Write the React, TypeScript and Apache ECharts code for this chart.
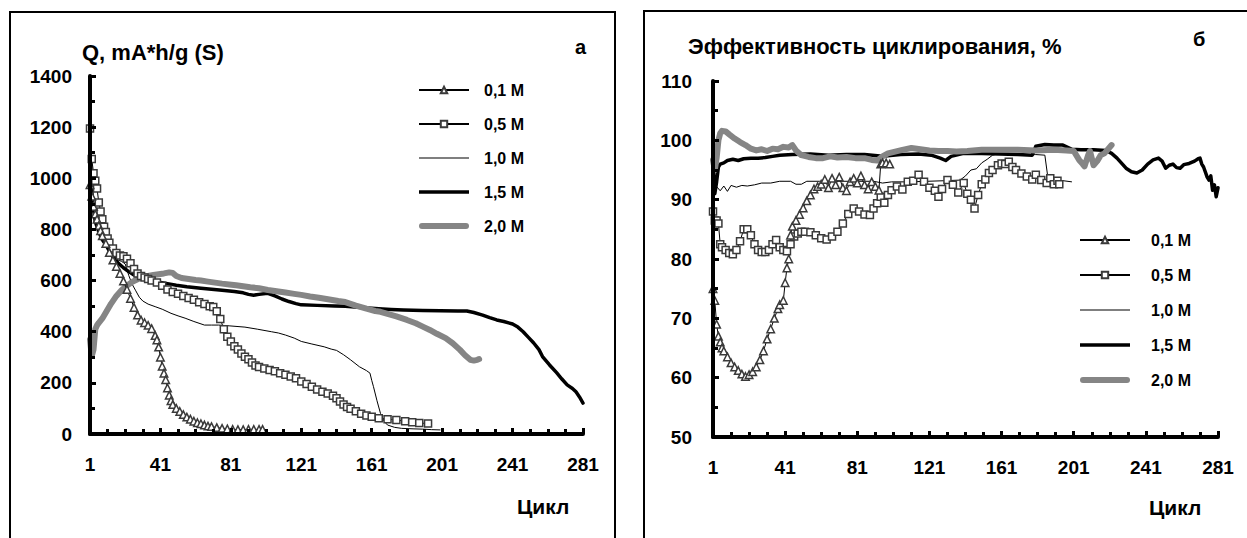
import { useEffect, useRef } from 'react';
import * as echarts from 'echarts';

const FONT = "'Liberation Sans', Arial, sans-serif";

// Legend / series names
const seriesNames = ['0,1 M', '0,5 M', '1,0 M', '1,5 M', '2,0 M'];

// Axis ranges (cycles shown from 1 to 281, labels every 40, ticks every 10)
const cycleFirst = 1;
const cycleLast = 281;
const cycleLabelStep = 40;
const capacityMin = 0;
const capacityMax = 1400;
const capacityStep = 200;
const effMin = 50;
const effMax = 110;
const effStep = 10;

// ---- Panel а: discharge capacity, mA*h/g (S) vs cycle ----
const capacity01: [number, number][] = [
  [1, 975], [2, 930], [3, 890], [4, 860], [5, 840], [6, 815], [7, 795], [8, 775], [10, 745], [12, 710],
  [14, 680], [16, 655], [18, 628], [20, 598], [22, 565], [24, 530], [26, 495], [28, 465], [30, 445],
  [32, 435], [34, 425], [36, 412], [38, 385], [39, 368], [40, 340], [41, 300], [42, 265], [43, 238],
  [44, 212], [45, 180], [46, 152], [47, 130], [48, 115], [50, 100], [52, 88], [54, 76], [56, 66],
  [58, 58], [60, 50], [62, 44], [64, 40], [66, 35], [68, 31], [70, 29], [73, 25], [76, 22], [79, 20],
  [82, 18], [85, 17], [88, 17], [91, 18], [94, 18], [97, 18], [99, 18],
];
const capacity05: [number, number][] = [
  [1, 1195], [2, 1075], [3, 1020], [4, 990], [5, 960], [6, 905], [7, 870], [8, 840], [9, 810], [10, 790],
  [11, 765], [12, 748], [14, 725], [16, 708], [18, 698], [20, 695], [22, 685], [24, 668], [26, 645],
  [28, 628], [30, 618], [32, 612], [34, 606], [36, 600], [39, 592], [42, 580], [45, 565], [48, 555],
  [51, 548], [54, 540], [57, 532], [60, 525], [63, 515], [66, 508], [69, 500], [71, 497], [73, 480],
  [75, 450], [77, 410], [79, 380], [81, 362], [83, 343], [85, 330], [87, 315], [89, 302], [91, 292],
  [93, 280], [95, 268], [97, 262], [100, 256], [103, 250], [106, 245], [109, 238], [112, 232],
  [115, 225], [118, 218], [121, 205], [124, 196], [127, 185], [130, 174], [133, 165], [136, 158],
  [139, 150], [141, 140], [143, 127], [145, 115], [147, 106], [149, 99], [152, 89], [155, 79],
  [158, 72], [161, 67], [165, 62], [170, 58], [175, 55], [180, 50], [184, 46], [188, 43], [193, 41],
];
const capacity10: [number, number][] = [
  [1, 930], [2, 890], [3, 860], [5, 820], [7, 790], [9, 760], [11, 730], [13, 705], [15, 690], [17, 680],
  [19, 675], [21, 665], [23, 620], [25, 585], [27, 560], [29, 535], [31, 520], [34, 508], [38, 498],
  [42, 488], [47, 472], [51, 462], [55, 453], [60, 440], [66, 426], [70, 426], [74, 426], [80, 423],
  [89, 418], [96, 410], [104, 400], [108, 395], [112, 387], [117, 375], [121, 362], [127, 352],
  [134, 341], [138, 332], [141, 327], [145, 310], [149, 290], [154, 263], [158, 248], [160, 238],
  [161, 210], [162, 185], [164, 130], [166, 80], [168, 50], [170, 35], [174, 26], [178, 22], [185, 20],
  [190, 19], [195, 17], [200, 16],
];
const capacity15: [number, number][] = [
  [1, 1100], [2, 950], [3, 880], [4, 830], [6, 790], [8, 760], [10, 740], [12, 715], [14, 695], [17, 668],
  [20, 650], [23, 635], [26, 622], [29, 612], [33, 603], [38, 596], [45, 588], [50, 582], [56, 576],
  [64, 570], [70, 566], [76, 562], [83, 557], [88, 552], [91, 546], [94, 543], [97, 546], [102, 550],
  [106, 540], [110, 528], [114, 518], [118, 510], [121, 505], [130, 503], [140, 501], [146, 500],
  [155, 495], [165, 490], [172, 487], [179, 485], [190, 483], [200, 482], [210, 481], [215, 481],
  [219, 475], [224, 465], [228, 455], [232, 446], [236, 440], [241, 430], [244, 418], [247, 400],
  [250, 378], [253, 356], [256, 330], [258, 303], [262, 270], [266, 240], [269, 215], [272, 192],
  [275, 178], [277, 165], [279, 145], [281, 121],
];
const capacity20: [number, number][] = [
  [1, 370], [2, 305], [3, 330], [4, 410], [5, 425], [6, 435], [8, 452], [10, 475], [13, 510], [16, 540],
  [19, 563], [22, 580], [25, 595], [28, 605], [31, 613], [34, 618], [37, 622], [40, 625], [43, 628],
  [46, 632], [48, 630], [50, 618], [53, 610], [57, 606], [61, 602], [64, 600], [68, 596], [72, 592],
  [76, 588], [80, 585], [84, 582], [88, 578], [92, 574], [97, 570], [102, 563], [107, 558], [112, 553],
  [117, 548], [121, 544], [126, 538], [131, 533], [137, 526], [142, 520], [146, 516], [152, 502],
  [158, 490], [163, 481], [166, 478], [170, 470], [175, 460], [181, 446], [186, 433], [190, 420],
  [194, 407], [198, 392], [203, 375], [207, 355], [211, 330], [214, 308], [217, 290], [219, 287],
  [221, 290], [222, 293],
];

// ---- Panel б: cycling efficiency, % vs cycle ----
const eff01: [number, number][] = [
  [1, 75], [2, 73], [3, 69], [4, 67], [5, 66], [6, 65], [7, 64.5], [9, 63.5], [11, 62.5], [13, 61.8],
  [15, 61.2], [17, 60.6], [19, 60.2], [21, 60.5], [23, 61], [25, 61.8], [27, 63], [29, 64.5], [31, 66.5],
  [33, 68.2], [35, 70], [37, 71.6], [38, 72.3], [40, 73], [41, 76], [42, 78.5], [43, 80], [44, 84],
  [45, 85.5], [47, 86.5], [49, 87.5], [51, 88.6], [53, 89.8], [55, 90.8], [57, 91.8], [59, 92.2],
  [61, 92.6], [63, 93.4], [65, 92], [67, 93.6], [69, 92.5], [71, 93.8], [73, 92], [75, 91.5], [77, 93],
  [79, 93.6], [81, 92.8], [83, 94], [85, 92.5], [87, 91.8], [89, 93], [91, 92.2], [93, 91.6], [94, 96],
  [95, 96.2], [97, 96.2], [99, 96],
];
const eff05: [number, number][] = [
  [1, 88], [2, 86.5], [3, 86.5], [4, 86], [5, 82.5], [6, 82], [8, 81.5], [10, 81], [12, 80.8], [14, 81.5],
  [16, 83], [18, 85], [20, 85], [22, 84], [24, 82.5], [26, 81.5], [28, 81.2], [30, 81.2], [32, 81.5],
  [34, 82.5], [36, 83.2], [38, 82], [40, 81.5], [42, 81.3], [44, 82.5], [46, 83.8], [48, 84.3],
  [50, 84.6], [52, 84.6], [55, 84.5], [58, 84], [61, 83.5], [64, 83.3], [67, 83.8], [70, 84.6],
  [73, 86], [76, 87.6], [79, 88.5], [82, 88], [85, 87.5], [88, 87.4], [90, 88.5], [92, 89.4],
  [94, 90.5], [96, 89.5], [98, 90.8], [100, 91.6], [103, 92.2], [106, 91.7], [109, 93], [112, 93.2],
  [115, 94.2], [118, 93], [121, 92], [124, 91.5], [126, 90.5], [128, 91.8], [131, 93.3], [134, 92.5],
  [137, 91.2], [140, 92.8], [142, 91], [144, 90], [146, 88.5], [148, 90.8], [150, 92.6], [152, 93.4],
  [154, 94.5], [156, 95], [159, 95.8], [161, 96.1], [163, 96], [165, 96.4], [167, 95.5], [169, 95],
  [172, 94.4], [175, 93.9], [178, 93.4], [180, 94.2], [183, 93.3], [186, 92.8], [188, 93.6],
  [190, 92.6], [192, 93.2], [193, 92.6],
];
const eff10: [number, number][] = [
  [1, 89], [2, 91.6], [3, 92.2], [5, 91.5], [7, 92.3], [9, 91.4], [11, 92.4], [14, 92.1], [17, 92.4],
  [20, 92.3], [24, 92.5], [28, 92.8], [33, 92.8], [38, 93.1], [44, 93.1], [47, 92.6], [50, 92.6],
  [53, 93.1], [60, 93.1], [70, 93.1], [80, 93.1], [90, 93.1], [95, 92.8], [100, 93], [110, 93],
  [120, 93.1], [130, 93.2], [138, 93.3], [141, 94], [144, 95], [147, 95.2], [150, 96.2], [153, 96.8],
  [156, 97.5], [160, 97.8], [165, 97.8], [170, 97.6], [175, 97.5], [180, 97.6], [185, 97.5], [187, 93],
  [190, 92.8], [195, 93.2], [200, 93],
];
const eff15: [number, number][] = [
  [1, 97], [2, 91], [3, 93], [4, 95.5], [5, 96], [7, 96.2], [9, 96.6], [12, 96.8], [15, 96.6], [18, 96.9],
  [22, 97], [26, 97], [30, 97.1], [34, 97.3], [38, 97.5], [45, 97.6], [55, 97.7], [65, 97.5], [75, 97.6],
  [85, 97.6], [95, 97.3], [105, 97.6], [115, 97.7], [122, 97.5], [127, 97], [130, 96.6], [133, 97.3],
  [140, 97.8], [150, 97.8], [160, 97.7], [170, 97.6], [178, 97.5], [180, 99], [185, 99.3], [190, 99.2],
  [195, 99.2], [200, 98.5], [205, 98.4], [212, 98.4], [219, 98.3], [222, 97.8], [225, 97], [228, 96],
  [230, 95.3], [233, 94.7], [236, 94.5], [239, 95], [242, 96], [245, 96.7], [248, 97], [250, 96.5],
  [252, 95.3], [254, 95.8], [256, 96], [258, 95.4], [260, 95.3], [262, 95.9], [265, 96.1], [268, 96.5],
  [270, 96.9], [271, 97], [272, 96], [273, 95.5], [275, 93.8], [276, 93.3], [277, 94], [278, 91.6],
  [279, 92.5], [280, 90.5], [281, 92],
];
const eff20: [number, number][] = [
  [1, 96.7], [2, 95], [3, 97], [4, 100], [5, 101.2], [6, 101.6], [8, 101.5], [10, 101], [13, 100.3],
  [16, 99.7], [19, 99.2], [22, 98.6], [25, 98.3], [28, 98.5], [31, 98.2], [34, 98.6], [37, 98.5],
  [40, 98.9], [43, 98.8], [45, 99.2], [47, 98.3], [50, 97.5], [54, 97.2], [58, 97], [62, 97], [66, 97.3],
  [70, 97.1], [75, 97.2], [80, 97], [85, 97], [89, 96.7], [92, 96.6], [95, 97.3], [98, 97.8],
  [102, 98.1], [106, 98.4], [111, 98.7], [116, 98.5], [121, 98.3], [126, 98.2], [131, 98.2],
  [136, 98.1], [142, 98.2], [150, 98.4], [160, 98.4], [170, 98.4], [180, 98.3], [190, 98.4],
  [197, 98.3], [201, 98.2], [204, 96.7], [206, 96], [207, 95.6], [209, 97.5], [210, 98.2], [212, 95.8],
  [214, 96.5], [216, 97.5], [218, 97.8], [220, 98.5], [222, 99.2],
];

const toAxis = (d: [number, number][]) => d.map(([c, v]) => [c - cycleFirst, v]);

const AXIS_COLOR = '#000000';

const boldLabel = (size: number) => ({
  fontSize: size,
  fontWeight: 'bold' as const,
  fontFamily: FONT,
  color: '#000',
});

function makeX(gridIndex: number) {
  return {
    type: 'value',
    gridIndex,
    min: 0,
    max: cycleLast - cycleFirst,
    interval: cycleLabelStep,
    z: 5,
    axisLine: { show: true, lineStyle: { color: AXIS_COLOR, width: 4, opacity: 1 } },
    axisTick: { show: true, inside: true, length: 6, lineStyle: { color: AXIS_COLOR, width: 3 } },
    minorTick: { show: true, splitNumber: 4, length: 5, lineStyle: { color: AXIS_COLOR, width: 3 } },
    axisLabel: { ...boldLabel(19), margin: 21, formatter: (v: number) => String(v + cycleFirst) },
    splitLine: { show: false },
  };
}

function makeY(gridIndex: number, min: number, max: number, interval: number, margin: number) {
  return {
    type: 'value',
    gridIndex,
    min,
    max,
    interval,
    z: 5,
    axisLine: { show: true, lineStyle: { color: AXIS_COLOR, width: 4, opacity: 1 } },
    axisTick: { show: true, inside: true, length: 6, lineStyle: { color: AXIS_COLOR, width: 3 } },
    minorTick: { show: true, splitNumber: 2, length: 5, lineStyle: { color: AXIS_COLOR, width: 3 } },
    axisLabel: { ...boldLabel(19), margin, formatter: (v: number) => String(v) },
    splitLine: { show: false },
  };
}

const lineColor = '#000';
const grayColor = '#858585';
const markerBorder = '#3a3a3a';

function makeSeries(idx: number, d01: any, d05: any, d10: any, d15: any, d20: any) {
  const base = { type: 'line', xAxisIndex: idx, yAxisIndex: idx, animation: false };
  return [
    {
      ...base, name: seriesNames[2], data: toAxis(d10), symbol: 'none',
      itemStyle: { color: lineColor },
      lineStyle: { color: lineColor, width: 1 },
    },
    {
      ...base, name: seriesNames[3], data: toAxis(d15), symbol: 'none',
      itemStyle: { color: lineColor },
      lineStyle: { color: lineColor, width: 3.5, cap: 'round', join: 'round' },
    },
    {
      ...base, name: seriesNames[4], data: toAxis(d20), symbol: 'none',
      itemStyle: { color: grayColor },
      lineStyle: { color: grayColor, width: 6, cap: 'round', join: 'round' },
    },
    {
      ...base, name: seriesNames[1], data: toAxis(d05), symbol: 'rect', symbolSize: 7,
      showAllSymbol: true,
      itemStyle: { color: '#fff', borderColor: markerBorder, borderWidth: 1.5 },
      lineStyle: { color: lineColor, width: 1 },
    },
    {
      ...base, name: seriesNames[0], data: toAxis(d01), symbol: 'triangle', symbolSize: 7.5,
      showAllSymbol: true,
      itemStyle: { color: '#fff', borderColor: markerBorder, borderWidth: 1.5 },
      lineStyle: { color: lineColor, width: 1 },
    },
  ];
}

const legendItems = [
  { name: seriesNames[0] },
  { name: seriesNames[1] },
  { name: seriesNames[2], icon: 'path://M0,0 L50,0 L50,1 L0,1 Z', itemStyle: { color: lineColor } },
  { name: seriesNames[3], icon: 'path://M0,0 L50,0 L50,3.5 L0,3.5 Z', itemStyle: { color: lineColor } },
  {
    name: seriesNames[4],
    icon: 'path://M3,0 L47,0 A3,3 0 0 1 47,6 L3,6 A3,3 0 0 1 3,0 Z',
    itemStyle: { color: grayColor },
  },
];

function legendAt(left: number, top: number, gap: number, textPad: number) {
  return {
    data: legendItems,
    orient: 'vertical',
    left,
    top,
    padding: 0,
    itemWidth: 50,
    itemHeight: 8,
    itemGap: gap,
    selectedMode: false,
    textStyle: { ...boldLabel(16), padding: [0, 0, 0, textPad] },
  };
}

function txt(text: string, x: number, y: number, size: number) {
  return {
    type: 'text',
    x,
    y,
    silent: true,
    style: {
      text,
      font: `bold ${size}px ${FONT}`,
      fill: '#000',
      textAlign: 'left',
      textVerticalAlign: 'middle',
    },
  };
}

export default function App() {
  const ref = useRef<HTMLDivElement>(null);
  useEffect(() => {
    if (!ref.current) return;
    const chart = echarts.init(ref.current, null, { renderer: 'svg' });
    chart.setOption({
      animation: false,
      backgroundColor: '#fff',
      grid: [
        { left: 90, top: 76, width: 493, height: 358 },
        { left: 713, top: 81, width: 505, height: 356 },
      ],
      xAxis: [makeX(0), makeX(1)],
      yAxis: [
        makeY(0, capacityMin, capacityMax, capacityStep, 18),
        makeY(1, effMin, effMax, effStep, 21),
      ],
      legend: [legendAt(418, 82, 18, 10), legendAt(1079, 232, 19, 16)],
      series: [
        ...makeSeries(0, capacity01, capacity05, capacity10, capacity15, capacity20),
        ...makeSeries(1, eff01, eff05, eff10, eff15, eff20),
      ],
      graphic: [
        {
          type: 'rect', silent: true,
          shape: { x: 10, y: 12, width: 605, height: 560 },
          style: { fill: 'none', stroke: '#000', lineWidth: 2 },
        },
        {
          type: 'rect', silent: true,
          shape: { x: 644, y: 11, width: 640, height: 560 },
          style: { fill: 'none', stroke: '#000', lineWidth: 2 },
        },
        txt('Q, mA*h/g (S)', 82, 52, 22),
        txt('а', 575, 47, 20),
        txt('Цикл', 517, 506, 21),
        txt('Эффективность циклирования, %', 688, 46, 22),
        txt('б', 1193, 39, 20),
        txt('Цикл', 1149, 507, 21),
      ],
    });
    return () => chart.dispose();
  }, []);
  return (
    <div
      ref={ref}
      style={{ position: 'fixed', left: 0, top: 0, width: 1247, height: 538, background: '#fff' }}
    />
  );
}
